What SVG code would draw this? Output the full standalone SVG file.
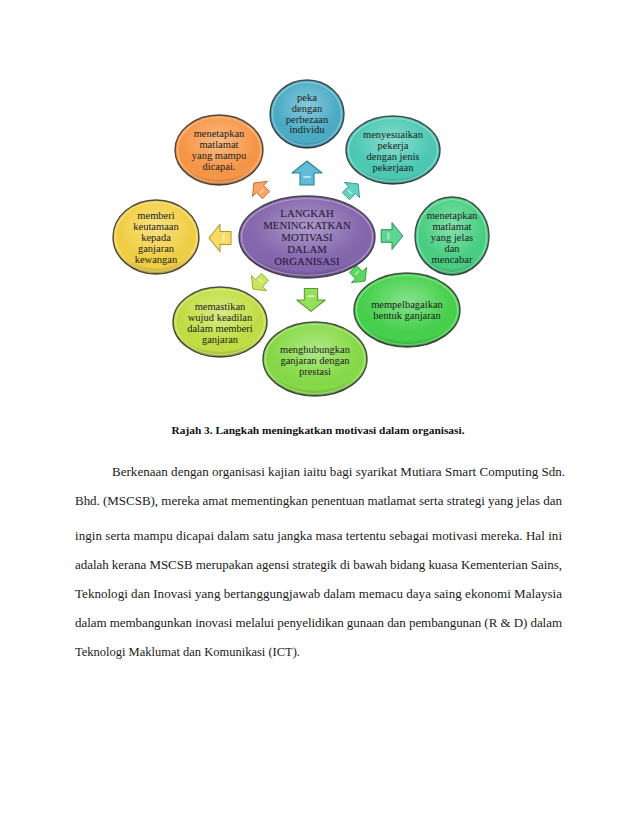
<svg xmlns="http://www.w3.org/2000/svg" width="638" height="826" viewBox="0 0 638 826">
<defs>
<radialGradient id="gloss" cx="50%" cy="38%" r="62%">
<stop offset="0" stop-color="#fff" stop-opacity="0.35"/>
<stop offset="0.55" stop-color="#fff" stop-opacity="0.06"/>
<stop offset="0.85" stop-color="#000" stop-opacity="0"/>
<stop offset="1" stop-color="#000" stop-opacity="0.28"/>
</radialGradient>
<path id="arr" d="M0,-12 L15,0 L7,0 L7,12 L-7,12 L-7,0 L-15,0 Z"/>
</defs>
<style>
.bg{fill:#fff}
.node{stroke:#2e2e2e;stroke-width:1.4;stroke-opacity:0.85}
.gl{fill:url(#gloss)}
.rim{fill:none;stroke:#fff;stroke-opacity:0.35;stroke-width:1.2}
.lbl{font-family:"Liberation Serif","Times New Roman",serif;font-size:10.5px;fill:#1c1c1c;text-anchor:middle}
.ctr{font-family:"Liberation Serif","Times New Roman",serif;font-size:10.8px;fill:#1e1430;text-anchor:middle}
.ar{stroke-width:1.1;stroke-linejoin:round}
.hl{fill:#fff;fill-opacity:0.55}
.cap{font-family:"Liberation Serif","Times New Roman",serif;font-size:11px;font-weight:bold;fill:#111;text-anchor:middle}
.para{font-family:"Liberation Serif","Times New Roman",serif;font-size:13px;fill:#1a1a1a}
</style>
<rect class="bg" x="0" y="0" width="638" height="826"/>

<g id="connectors">
<g transform="translate(307,173)"><use href="#arr" class="ar" fill="#5fbcd4" stroke="#2f7f95"/><rect class="hl" x="-4" y="3" width="8" height="2" rx="1"/></g>
<g transform="translate(260,189) rotate(-45) scale(0.72)"><use href="#arr" class="ar" fill="#f9a462" stroke="#b86424"/><rect class="hl" x="-4" y="3" width="8" height="2" rx="1"/></g>
<g transform="translate(352,190) rotate(45) scale(0.72)"><use href="#arr" class="ar" fill="#62d3c0" stroke="#2a8f7e"/><rect class="hl" x="-4" y="3" width="8" height="2" rx="1"/></g>
<g transform="translate(392,236) rotate(90) scale(0.9)"><use href="#arr" class="ar" fill="#5ad690" stroke="#2a8e55"/><rect class="hl" x="-4" y="3" width="8" height="2" rx="1"/></g>
<g transform="translate(359,275) rotate(135) scale(0.72)"><use href="#arr" class="ar" fill="#5cd85f" stroke="#2f9232"/><rect class="hl" x="-4" y="3" width="8" height="2" rx="1"/></g>
<g transform="translate(311,300) rotate(180) scale(0.95)"><use href="#arr" class="ar" fill="#95e05a" stroke="#5a9a2c"/><rect class="hl" x="-4" y="3" width="8" height="2" rx="1"/></g>
<g transform="translate(259,283) rotate(-135) scale(0.72)"><use href="#arr" class="ar" fill="#cce65c" stroke="#8ba02a"/><rect class="hl" x="-4" y="3" width="8" height="2" rx="1"/></g>
<g transform="translate(220,238) rotate(-90) scale(0.92)"><use href="#arr" class="ar" fill="#f6dc62" stroke="#b0962a"/><rect class="hl" x="-4" y="3" width="8" height="2" rx="1"/></g>
</g>

<g id="center">
<ellipse class="node" cx="307" cy="237" rx="68" ry="41" fill="#8466ad"/>
<ellipse class="gl" cx="307" cy="237" rx="68" ry="41"/>
<ellipse class="rim" cx="307" cy="237" rx="65.5" ry="38.5"/>
<text class="ctr" x="307" y="217">LANGKAH</text>
<text class="ctr" x="307" y="229">MENINGKATKAN</text>
<text class="ctr" x="307" y="241">MOTIVASI</text>
<text class="ctr" x="307" y="253">DALAM</text>
<text class="ctr" x="307" y="265">ORGANISASI</text>
</g>

<g id="n-peka">
<ellipse class="node" cx="307" cy="114" rx="37" ry="34" fill="#4bacc6"/>
<ellipse class="gl" cx="307" cy="114" rx="37" ry="34"/>
<ellipse class="rim" cx="307" cy="114" rx="34.5" ry="31.5"/>
<text class="lbl" x="307" y="101">peka</text>
<text class="lbl" x="307" y="112">dengan</text>
<text class="lbl" x="307" y="123">perbezaan</text>
<text class="lbl" x="307" y="133">individu</text>
</g>

<g id="n-mampu">
<ellipse class="node" cx="219" cy="150" rx="44" ry="35" fill="#f79646"/>
<ellipse class="gl" cx="219" cy="150" rx="44" ry="35"/>
<ellipse class="rim" cx="219" cy="150" rx="41.5" ry="32.5"/>
<text class="lbl" x="219" y="137">menetapkan</text>
<text class="lbl" x="219" y="148">matlamat</text>
<text class="lbl" x="219" y="159">yang mampu</text>
<text class="lbl" x="219" y="170">dicapai.</text>
</g>

<g id="n-sesuai">
<ellipse class="node" cx="393" cy="150" rx="47" ry="34" fill="#4ccab4"/>
<ellipse class="gl" cx="393" cy="150" rx="47" ry="34"/>
<ellipse class="rim" cx="393" cy="150" rx="44.5" ry="31.5"/>
<text class="lbl" x="393" y="138">menyesuaikan</text>
<text class="lbl" x="393" y="149">pekerja</text>
<text class="lbl" x="393" y="160">dengan jenis</text>
<text class="lbl" x="393" y="171">pekerjaan</text>
</g>

<g id="n-jelas">
<ellipse class="node" cx="452" cy="236" rx="37" ry="39" fill="#48cf82"/>
<ellipse class="gl" cx="452" cy="236" rx="37" ry="39"/>
<ellipse class="rim" cx="452" cy="236" rx="34.5" ry="36.5"/>
<text class="lbl" x="452" y="219">menetapkan</text>
<text class="lbl" x="452" y="230">matlamat</text>
<text class="lbl" x="452" y="241">yang jelas</text>
<text class="lbl" x="452" y="252">dan</text>
<text class="lbl" x="452" y="263">mencabar</text>
</g>

<g id="n-pelbagai">
<ellipse class="node" cx="407" cy="310" rx="53" ry="37" fill="#46d14c"/>
<ellipse class="gl" cx="407" cy="310" rx="53" ry="37"/>
<ellipse class="rim" cx="407" cy="310" rx="50.5" ry="34.5"/>
<text class="lbl" x="407" y="308">mempelbagaikan</text>
<text class="lbl" x="407" y="319">bentuk ganjaran</text>
</g>

<g id="n-prestasi">
<ellipse class="node" cx="315" cy="359" rx="52" ry="37" fill="#86da48"/>
<ellipse class="gl" cx="315" cy="359" rx="52" ry="37"/>
<ellipse class="rim" cx="315" cy="359" rx="49.5" ry="34.5"/>
<text class="lbl" x="315" y="353">menghubungkan</text>
<text class="lbl" x="315" y="364">ganjaran dengan</text>
<text class="lbl" x="315" y="375">prestasi</text>
</g>

<g id="n-adil">
<ellipse class="node" cx="220" cy="322" rx="47" ry="35" fill="#c3de44"/>
<ellipse class="gl" cx="220" cy="322" rx="47" ry="35"/>
<ellipse class="rim" cx="220" cy="322" rx="44.5" ry="32.5"/>
<text class="lbl" x="220" y="310">memastikan</text>
<text class="lbl" x="220" y="321">wujud keadilan</text>
<text class="lbl" x="220" y="332">dalam memberi</text>
<text class="lbl" x="220" y="343">ganjaran</text>
</g>

<g id="n-wang">
<ellipse class="node" cx="156" cy="237" rx="43" ry="37" fill="#f2d044"/>
<ellipse class="gl" cx="156" cy="237" rx="43" ry="37"/>
<ellipse class="rim" cx="156" cy="237" rx="40.5" ry="34.5"/>
<text class="lbl" x="156" y="219">memberi</text>
<text class="lbl" x="156" y="230">keutamaan</text>
<text class="lbl" x="156" y="241">kepada</text>
<text class="lbl" x="156" y="252">ganjaran</text>
<text class="lbl" x="156" y="263">kewangan</text>
</g>

<text class="cap" x="318" y="434" textLength="293" lengthAdjust="spacingAndGlyphs">Rajah 3. Langkah meningkatkan motivasi dalam organisasi.</text>

<g id="paragraph">
<text class="para" x="112" y="476" textLength="453" lengthAdjust="spacing">Berkenaan dengan organisasi kajian iaitu bagi syarikat Mutiara Smart Computing Sdn.</text>
<text class="para" x="75" y="505" textLength="487" lengthAdjust="spacing">Bhd. (MSCSB), mereka amat mementingkan penentuan matlamat serta strategi yang jelas dan</text>
<text class="para" x="75" y="540" textLength="487" lengthAdjust="spacing">ingin serta mampu dicapai dalam satu jangka masa tertentu sebagai motivasi mereka. Hal ini</text>
<text class="para" x="75" y="569" textLength="487" lengthAdjust="spacing">adalah kerana MSCSB merupakan agensi strategik di bawah bidang kuasa Kementerian Sains,</text>
<text class="para" x="75" y="598" textLength="487" lengthAdjust="spacing">Teknologi dan Inovasi yang bertanggungjawab dalam memacu daya saing ekonomi Malaysia</text>
<text class="para" x="75" y="627" textLength="487" lengthAdjust="spacing">dalam membangunkan inovasi melalui penyelidikan gunaan dan pembangunan (R &amp; D) dalam</text>
<text class="para" x="75" y="656" textLength="225" lengthAdjust="spacingAndGlyphs">Teknologi Maklumat dan Komunikasi (ICT).</text>
</g>
</svg>
